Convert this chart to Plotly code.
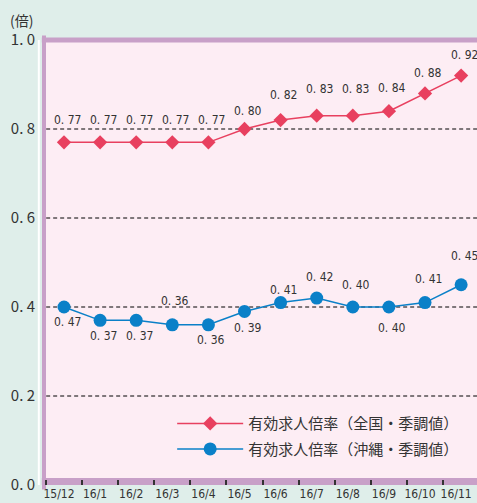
import plotly.graph_objects as go

months = ["15/12", "16/1", "16/2", "16/3", "16/4", "16/5",
          "16/6", "16/7", "16/8", "16/9", "16/10", "16/11"]
national = [0.77, 0.77, 0.77, 0.77, 0.77, 0.80, 0.82, 0.83, 0.83, 0.84, 0.88, 0.92]
okinawa = [0.40, 0.37, 0.37, 0.36, 0.36, 0.39, 0.41, 0.42, 0.40, 0.40, 0.41, 0.45]
national_labels = ["0.77", "0.77", "0.77", "0.77", "0.77", "0.80",
                   "0.82", "0.83", "0.83", "0.84", "0.88", "0.92"]
okinawa_labels = ["0.47", "0.37", "0.37", "0.36", "0.36", "0.39",
                  "0.41", "0.42", "0.40", "0.40", "0.41", "0.45"]
y_ticks = [0.0, 0.2, 0.4, 0.6, 0.8, 1.0]
grid_vals = [0.2, 0.4, 0.6, 0.8]
name_national = "有効求人倍率（全国・季調値）"
name_okinawa = "有効求人倍率（沖縄・季調値）"

# label placement (pixels) - styling, not data
nat_shift = [22, 22, 22, 22, 22, 18, 25, 27, 27, 23, 20, 21]
oki_shift = [-15, -16, -16, 24, -15, -17, 13, 21, 22, -21, 24, 29]

RED = "#e8405f"
BLUE = "#0a80c8"
PURPLE = "#c8a0c8"
PINK = "#fdedf4"
TXT = "#333333"
JP = "Noto Sans CJK JP, sans-serif"
NARROW = "Liberation Sans Narrow, DejaVu Sans Condensed, Roboto, sans-serif"

fig = go.Figure()
fig.add_trace(go.Scatter(
    x=months, y=national, mode="lines+markers", name=name_national,
    legendgroup="a",
    line=dict(color=RED, width=1.5),
    marker=dict(symbol="diamond", size=11, color=RED)))
fig.add_trace(go.Scatter(
    x=months, y=okinawa, mode="lines+markers", name=name_okinawa,
    legendgroup="b",
    line=dict(color=BLUE, width=1.5),
    marker=dict(symbol="circle", size=13, color=BLUE)))

ann = []
for m, v, t, s in zip(months, national, national_labels, nat_shift):
    ann.append(dict(x=m, y=v, text=t.replace(".", ". "), showarrow=False,
                    xshift=3, yshift=s, font=dict(family=NARROW, size=12, color=TXT)))
for m, v, t, s in zip(months, okinawa, okinawa_labels, oki_shift):
    ann.append(dict(x=m, y=v, text=t.replace(".", ". "), showarrow=False,
                    xshift=3, yshift=s, font=dict(family=NARROW, size=12, color=TXT)))
ann.append(dict(x=0, y=1, xref="paper", yref="paper", xshift=-23, yshift=20,
                text="(倍)", showarrow=False, xanchor="center", yanchor="middle",
                font=dict(family=JP, size=14, color=TXT)))

shapes = []
# plot frame borders
shapes.append(dict(type="line", xref="paper", yref="paper", x0=0, x1=0, y0=-0.01, y1=1.01,
                   line=dict(color=PURPLE, width=4), layer="below"))
shapes.append(dict(type="line", xref="paper", yref="paper", x0=-0.005, x1=1.0, y0=1.0, y1=1.0,
                   line=dict(color=PURPLE, width=5), layer="below"))
shapes.append(dict(type="rect", xref="paper", yref="paper", x0=-0.005, x1=1.0, y0=0, y1=0.016,
                   line=dict(width=0), fillcolor=PURPLE, layer="below"))
shapes.append(dict(type="line", xref="paper", yref="paper", x0=-0.012, x1=-0.012, y0=0, y1=1.0,
                   line=dict(color="#ffffff", width=2), layer="below"))
for g in grid_vals:
    shapes.append(dict(type="line", xref="paper", yref="y", x0=0.005, x1=1, y0=g, y1=g,
                       line=dict(color="#000000", width=1, dash="4px,3px"), layer="below"))

fig.update_layout(
    width=477, height=503,
    margin=dict(l=44, r=0, t=40, b=18, autoexpand=False),
    paper_bgcolor="#dfeeea",
    plot_bgcolor=PINK,
    annotations=ann,
    shapes=shapes,
    showlegend=True,
    legend=dict(x=0.296, y=0.175, xanchor="left", yanchor="top",
                bgcolor="rgba(0,0,0,0)", tracegroupgap=3, itemwidth=66,
                font=dict(family=JP, size=15, color=TXT)),
    xaxis=dict(type="category", range=[-0.554, 11.44], showgrid=False,
               tickson="boundaries", ticks="inside", ticklen=5, tickcolor="#333333",
               tickwidth=1.5, ticklabelshift=-5, tickangle=0, automargin=False,
               tickfont=dict(family=NARROW, size=12, color=TXT),
               showline=False, zeroline=False, fixedrange=True),
    yaxis=dict(range=[0, 1], tickvals=y_ticks,
               ticktext=[f"{v:.1f}".replace(".", ". ") for v in y_ticks],
               showgrid=False, zeroline=False, showline=False, automargin=False,
               ticks="", ticklabelstandoff=8,
               tickfont=dict(family=JP, size=15, color=TXT)),
)

fig.write_html("out.html")
